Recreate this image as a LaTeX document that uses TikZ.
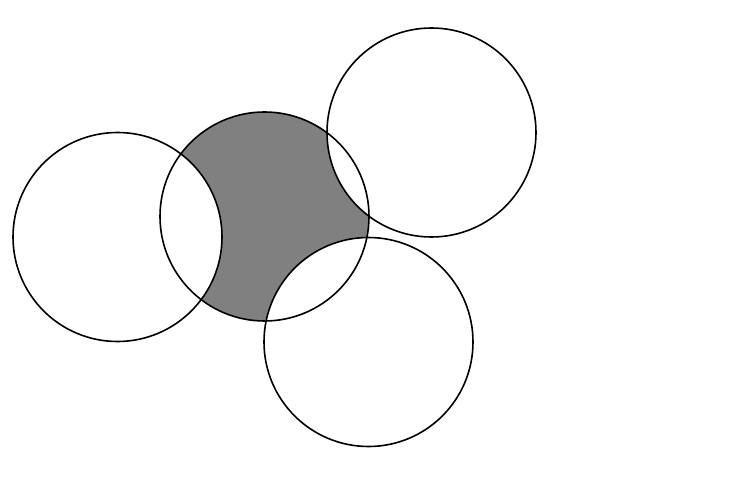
\documentclass[tikz,border=0pt]{standalone}
\begin{document}
\begin{tikzpicture}[x=1pt,y=-1pt,
  ring/.style={draw=black,line width=1.6pt},
  blank/.style={fill=white},
  shade/.style={fill=gray}]
\useasboundingbox (0,0) rectangle (745,492);
\coordinate (cl) at (117.5,237);
\coordinate (cm) at (264.5,216.5);
\coordinate (ct) at (431.5,132.5);
\coordinate (cb) at (368.5,342);
\fill[shade] (cm) circle[radius=104.5];
\fill[blank] (cl) circle[radius=104.5];
\fill[blank] (ct) circle[radius=104.5];
\fill[blank] (cb) circle[radius=104.5];
\draw[ring] (cl) circle[radius=104.5];
\draw[ring] (cm) circle[radius=104.5];
\draw[ring] (ct) circle[radius=104.5];
\draw[ring] (cb) circle[radius=104.5];
\end{tikzpicture}
\end{document}
